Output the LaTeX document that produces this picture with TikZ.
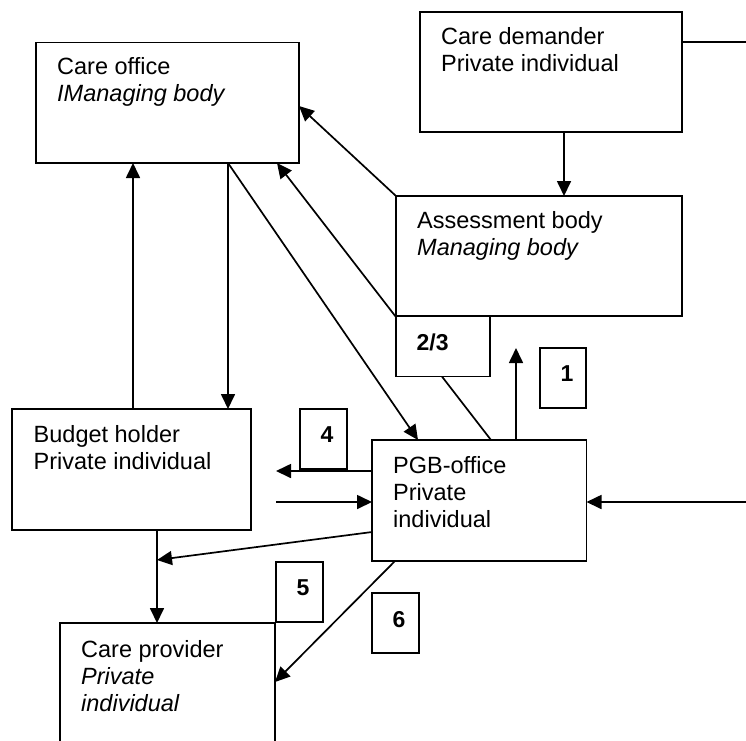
\documentclass[tikz,border=0pt]{standalone}
\usepackage{fontspec}
\setmainfont{Liberation Sans}
\usetikzlibrary{arrows.meta,calc,backgrounds}
\begin{document}
\begin{tikzpicture}[x=1pt,y=-1pt,
  box/.style={draw,line width=1.8pt,fill=white,inner sep=0pt,outer sep=0pt,anchor=north west},
  txt/.style={inner sep=0pt,anchor=base west,align=left,font=\fontsize{23.5}{27}\selectfont},
  num/.style={inner sep=0pt,anchor=base west,font=\fontsize{23}{27}\selectfont\bfseries},
  conn/.style={line width=1.7pt},
  arr/.style={conn,-{Triangle[length=15pt,width=14pt]}}]
\useasboundingbox (0,0) rectangle (746,740);
\clip (0,0) rectangle (746,740);
% boxes
\node[box,minimum width=263pt,minimum height=120.5pt] (co) at (36,42.5) {};
\node[box,minimum width=262pt,minimum height=120pt] (cd) at (420,12) {};
\node[box,minimum width=286pt,minimum height=120pt] (ab) at (396,196) {};
\node[box,minimum width=94pt,minimum height=60.5pt] (l23) at (396,316) {};
\node[box,minimum width=46pt,minimum height=60pt] (l1) at (540,348) {};
\node[box,minimum width=239pt,minimum height=121pt] (bh) at (12,409) {};
\node[box,minimum width=47pt,minimum height=60pt] (l4) at (300,409) {};
\node[box,minimum width=214.5pt,minimum height=121pt] (pgb) at (372,440) {};
\node[box,minimum width=47pt,minimum height=60pt] (l5) at (276,562) {};
\node[box,minimum width=47pt,minimum height=60pt] (l6) at (372,593) {};
\node[box,minimum width=215pt,minimum height=160pt] (cp) at (60,623) {};
% texts (base anchor = baseline of the last line)
\node[txt] (cotx) at ($(co.north west)+(21,59)$) {Care office\\\textit{IManaging body}};
\node[txt] (cdtx) at ($(cd.north west)+(21,59)$) {Care demander\\Private individual};
\node[txt] (abtx) at ($(ab.north west)+(21,59.5)$) {Assessment body\\\textit{Managing body}};
\node[txt] (bhtx) at ($(bh.north west)+(21.5,60.5)$) {Budget holder\\Private individual};
\node[txt] (pgbtx) at ($(pgb.north west)+(21,87)$) {PGB-office\\Private\\individual};
\node[txt] (cptx) at ($(cp.north west)+(21,88)$) {Care provider\\\textit{Private}\\\textit{individual}};
\node[num] (n23) at ($(l23.north west)+(20.5,34.5)$) {2/3};
\node[num] (n1) at ($(l1.north west)+(20.5,33.5)$) {1};
\node[num] (n4) at ($(l4.north west)+(20.5,33.5)$) {4};
\node[num] (n5) at ($(l5.north west)+(20.5,33.7)$) {5};
\node[num] (n6) at ($(l6.north west)+(20.5,34)$) {6};
% connectors
\begin{scope}[on background layer]
 \draw[arr] ($(cd.south west)+(144,0)$) -- ($(ab.north west)+(168,0)$);
 \coordinate (rtop) at (746,42);
 \draw[conn] (rtop -| cd.east) -- (rtop);
 \coordinate (rbot) at (746,502);
 \draw[arr] (rbot) -- (rbot -| pgb.east);
 \draw[arr] (ab.north west) -- ($(co.north east)+(0,63.5)$);
 \draw[arr] ($(pgb.north west)+(119,0)$) -- ($(co.south east)+(-22,0)$);
 \draw[arr] ($(co.south west)+(192,0)$) -- ($(pgb.north west)+(46,0)$);
 \coordinate (cod) at ($(co.south west)+(192,0)$);
 \draw[arr] (cod) -- (cod |- bh.north);
 \coordinate (bhu) at ($(bh.north west)+(121,0)$);
 \draw[arr] (bhu) -- (bhu |- co.south);
 \coordinate (pu) at ($(pgb.north west)+(144,0)$);
 \coordinate (up1) at (516,348);
 \draw[arr] (pu) -- (up1);
 \coordinate (a4) at (276,471);
 \draw[arr] (a4 -| pgb.west) -- (a4);
 \coordinate (b4) at (276,502);
 \draw[arr] (b4) -- (b4 -| pgb.west);
 \coordinate (jn) at (157,560);
 \draw[arr] ($(pgb.north west)+(0,92)$) -- (jn);
 \coordinate (bhd) at ($(bh.south west)+(145,0)$);
 \draw[arr] (bhd) -- (bhd |- cp.north);
 \draw[arr] ($(pgb.south west)+(23,0)$) -- ($(cp.north east)+(0,59)$);
\end{scope}
\end{tikzpicture}
\end{document}
